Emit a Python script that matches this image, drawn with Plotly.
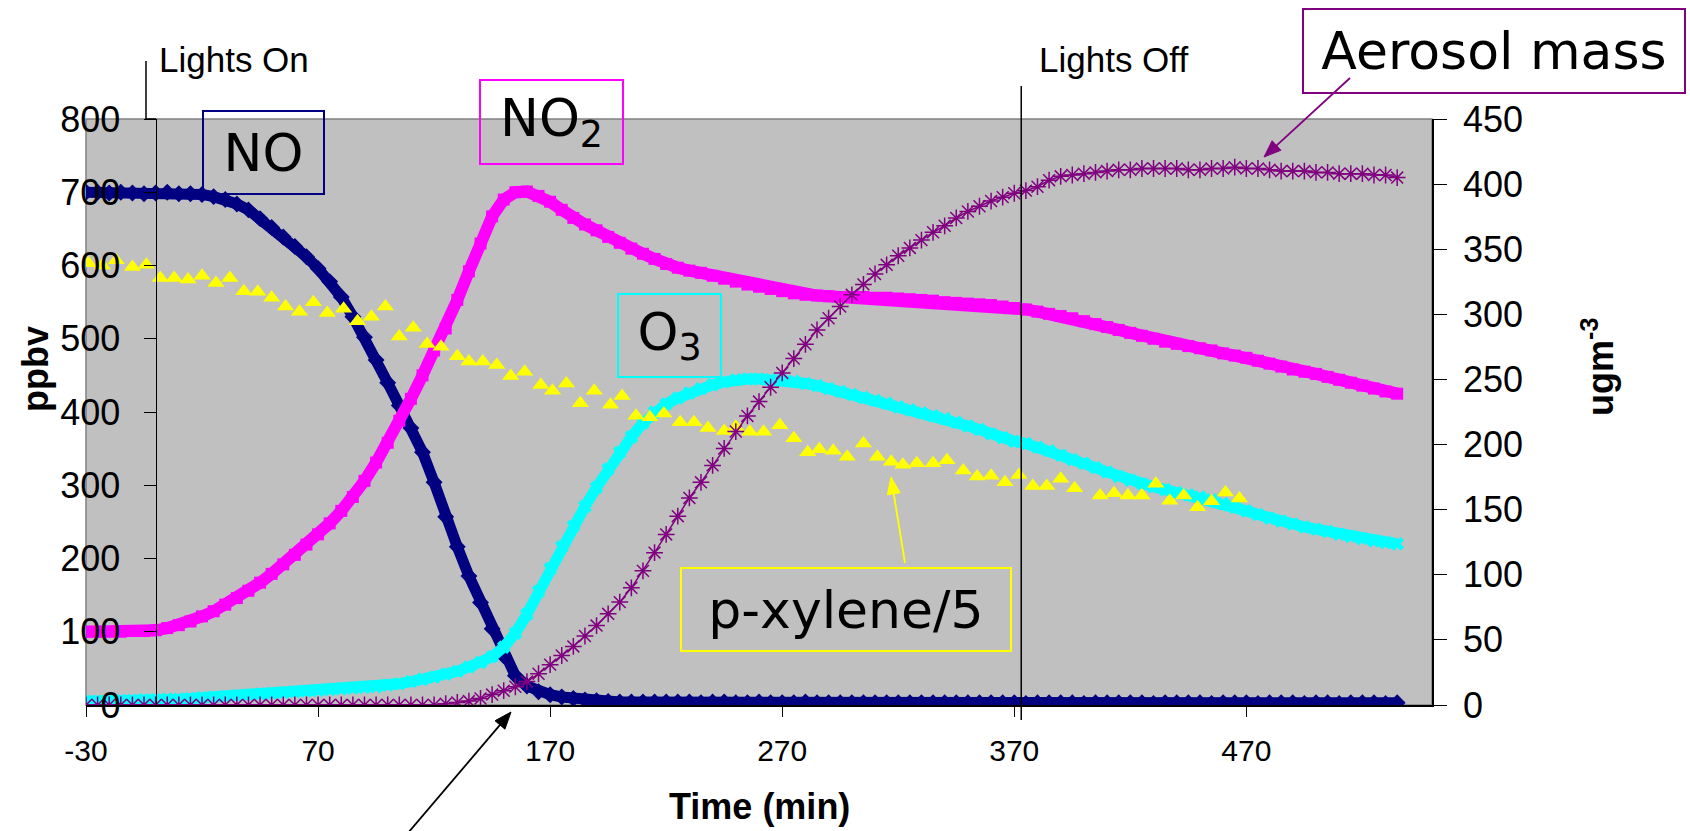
import math
import plotly.graph_objects as go

# ---------------- data ----------------
T5 = list(range(-30, 536, 5))  # sample times (min), 114 points

NO = [700, 700, 699, 700, 699, 698, 699, 700, 698, 698,
      697, 694, 690, 684, 676, 664, 652, 639, 626, 612,
      596, 578, 557, 530, 502, 471, 440, 409, 378, 345,
      304, 257, 216, 176, 140, 104, 67, 40, 26, 18,
      14, 11, 9, 7, 6, 5, 4, 4, 4, 4,
      4, 4, 4, 3, 4, 4, 3, 3, 4, 3,
      3, 3, 4, 3, 3, 3, 3, 3, 3, 3,
      3, 3, 3, 3, 3, 3, 3, 3, 3, 3,
      3, 2, 3, 3, 3, 3, 2, 3, 3, 3,
      3, 3, 2, 3, 3, 3, 3, 2, 3, 3,
      3, 2, 3, 3, 3, 2, 3, 3, 2, 3,
      3, 3, 2, 3]

NO2 = [100, 100, 100, 100, 101, 101, 102, 105, 109, 114,
       121, 128, 137, 146, 156, 167, 179, 192, 205, 219,
       233, 248, 265, 284, 306, 331, 358, 388, 418, 450,
       484, 514, 553, 592, 630, 667, 690, 700, 701, 695,
       687, 676, 665, 656, 648, 639, 631, 623, 616, 609,
       602, 597, 593, 590, 586, 582, 578, 574, 571, 568,
       565, 562, 560, 559, 558, 557, 557, 557, 556, 556,
       555, 554, 553, 552, 550, 549, 548, 547, 546, 544,
       542, 540, 537, 534, 531, 528, 524, 520, 516, 512,
       508, 504, 500, 496, 493, 490, 487, 484, 480, 477,
       474, 470, 466, 462, 458, 455, 452, 448, 444, 440,
       436, 432, 428, 425]

O3 = [5, 5, 5, 6, 6, 7, 7, 8, 8, 9,
      10, 11, 12, 13, 14, 15, 16, 17, 18, 19,
      20, 21, 22, 23, 24, 25, 27, 29, 32, 35,
      38, 42, 46, 52, 58, 66, 79, 98, 124, 155,
      186, 216, 244, 271, 297, 322, 345, 366, 385, 400,
      411, 419, 426, 432, 437, 441, 444, 445, 445, 444,
      443, 442, 439, 436, 432, 428, 424, 420, 416, 412,
      407, 403, 399, 395, 391, 386, 381, 376, 370, 365,
      360, 357, 352, 347, 341, 335, 330, 324, 318, 312,
      307, 302, 298, 294, 290, 287, 284, 280, 275, 270,
      265, 260, 255, 251, 247, 243, 240, 237, 233, 230,
      227, 224, 222, 220]

AEROSOL = [0, 0, 0, 0, 0, 0, 0, 0, 0, 0,
           0, 0, 0, 0, 0, 0, 0, 0, 0, 0,
           0, 0, 0, 0, 0, 0, 0, 0, 0, 0,
           0, 1, 2, 3, 5, 8, 11, 14, 18, 24,
           31, 38, 45, 53, 61, 70, 79, 90, 103, 117,
           131, 145, 159, 171, 184, 197, 210, 222, 233, 244,
           255, 266, 277, 288, 297, 306, 315, 323, 331, 338,
           345, 351, 357, 363, 368, 374, 379, 383, 387, 390,
           393, 395, 398, 403, 406, 407, 408, 409, 410, 411,
           411, 412, 412, 412, 412, 411, 411, 412, 412, 413,
           412, 412, 411, 410, 410, 410, 409, 409, 408, 408,
           408, 407, 407, 405]

PX_T = [-29, -23, -17, -10, -4, 2, 8, 14, 20, 26,
        32, 38, 44, 50, 56, 62, 68, 74, 81, 87,
        93, 99, 105, 111, 117, 123, 130, 135, 141, 147,
        153, 159, 166, 171, 177, 183, 189, 196, 201, 207,
        213, 219, 226, 232, 238, 245, 250, 256, 262, 269,
        275, 281, 286, 292, 298, 305, 311, 317, 322, 328,
        335, 341, 348, 354, 360, 366, 372, 378, 384, 390,
        396, 407, 413, 419, 425, 431, 437, 443, 449, 455,
        461, 467]
PX_V = [603, 600, 607, 598, 601, 583, 583, 581, 586, 576,
        583, 565, 564, 556, 544, 537, 550, 535, 541, 524,
        530, 544, 503, 515, 493, 489, 476, 469, 469, 464,
        449, 455, 437, 429, 439, 412, 429, 410, 422, 395,
        393, 398, 386, 386, 378, 374, 380, 373, 373, 382,
        364, 345, 349, 347, 339, 357, 339, 332, 328, 330,
        330, 334, 320, 312, 313, 304, 314, 299, 299, 309,
        296, 286, 289, 286, 286, 302, 279, 286, 270, 278,
        290, 282]

X_RANGE = [-30, 550]
X_TICKS = [-30, 70, 170, 270, 370, 470]
Y_LEFT_TICKS = [0, 100, 200, 300, 400, 500, 600, 700, 800]
Y_RIGHT_TICKS = [0, 50, 100, 150, 200, 250, 300, 350, 400, 450]
LIGHTS_OFF_T = 373

# ---------------- layout geometry ----------------
W, H = 1690, 831
ML, MR, MT, MB = 86, 258, 119, 126
PW, PH = W - ML - MR, H - MT - MB


def px(x):
    return (x - ML) / PW


def py(y):
    return (H - MB - y) / PH


ARIAL = "Arial, Liberation Sans, sans-serif"
BOXFONT = "DejaVu Sans, Verdana, sans-serif"

fig = go.Figure()

fig.add_trace(go.Scatter(x=T5, y=NO, mode="lines+markers", name="NO",
                         line=dict(color="#000080", width=11),
                         marker=dict(symbol="diamond", size=13, color="#000080")))
fig.add_trace(go.Scatter(x=T5, y=NO2, mode="lines+markers", name="NO2",
                         line=dict(color="#FF00FF", width=12),
                         marker=dict(symbol="square", size=12, color="#FF00FF")))
fig.add_trace(go.Scatter(x=T5, y=O3, mode="lines+markers", name="O3",
                         line=dict(color="#00FFFF", width=11),
                         marker=dict(symbol="x", size=12, color="#00FFFF")))
fig.add_trace(go.Scatter(x=PX_T, y=PX_V, mode="markers", name="p-xylene/5",
                         marker=dict(symbol="triangle-up", size=15, color="#FFFF00")))
fig.add_trace(go.Scatter(x=T5, y=AEROSOL, mode="lines+markers", name="Aerosol mass",
                         yaxis="y2",
                         line=dict(color="#800080", width=1.5),
                         marker=dict(symbol="asterisk-open", size=14,
                                     line=dict(color="#800080", width=1.5))))

fig.update_layout(
    width=W, height=H,
    margin=dict(l=ML, r=MR, t=MT, b=MB),
    paper_bgcolor="white", plot_bgcolor="#C0C0C0",
    showlegend=False,
    xaxis=dict(range=X_RANGE, tickmode="array", tickvals=X_TICKS,
               ticktext=[str(v) for v in X_TICKS],
               ticks="outside", ticklen=10, tickcolor="black", tickwidth=1,
               showline=True, linecolor="black", linewidth=1.5,
               showgrid=False, zeroline=False,
               tickfont=dict(family=ARIAL, size=30, color="black"),
               ticklabelstandoff=8),
    yaxis=dict(range=[0, 800], tickmode="array", tickvals=Y_LEFT_TICKS,
               anchor="free",
               position=(0 - X_RANGE[0]) / (X_RANGE[1] - X_RANGE[0]),
               ticks="outside", ticklen=12, tickcolor="black", tickwidth=1,
               showline=True, linecolor="black", linewidth=1,
               showgrid=False, zeroline=False,
               tickfont=dict(family=ARIAL, size=36, color="black"),
               ticklabelstandoff=16),
    yaxis2=dict(range=[0, 450], tickmode="array", tickvals=Y_RIGHT_TICKS,
                overlaying="y", side="right", anchor="x",
                ticks="outside", ticklen=13, tickcolor="black", tickwidth=1,
                showline=True, linecolor="black", linewidth=1.5,
                showgrid=False, zeroline=False,
                tickfont=dict(family=ARIAL, size=36, color="black"),
                ticklabelstandoff=9),
    yaxis3=dict(range=[0, 450], tickmode="array", tickvals=Y_RIGHT_TICKS,
                overlaying="y", side="right", anchor="x",
                ticks="inside", ticklen=11, tickcolor="black", tickwidth=1,
                showticklabels=False, showline=False,
                showgrid=False, zeroline=False),
)

# plot-area border (grey) on top / left
fig.add_shape(type="rect", xref="paper", yref="paper", x0=0, x1=1, y0=0, y1=1,
              line=dict(color="#808080", width=1.5), layer="below")

# Lights Off line
fig.add_shape(type="line", xref="x", yref="paper", x0=LIGHTS_OFF_T, x1=LIGHTS_OFF_T,
              y0=py(720), y1=py(86), line=dict(color="black", width=1.5))
# Lights On leader
fig.add_shape(type="path", xref="paper", yref="paper",
              path=f"M {px(146)},{py(61)} L {px(146)},{py(119)} L {px(156)},{py(119)}",
              line=dict(color="black", width=1.5))

fig.add_annotation(x=px(157), y=py(60), xref="paper", yref="paper", text="Lights On",
                   showarrow=False, xanchor="left", yanchor="middle",
                   font=dict(family=ARIAL, size=35, color="black"))
fig.add_annotation(x=px(1037), y=py(59), xref="paper", yref="paper", text="Lights Off",
                   showarrow=False, xanchor="left", yanchor="middle",
                   font=dict(family=ARIAL, size=35, color="black"))

# axis titles
fig.add_annotation(x=px(35), y=py(369), xref="paper", yref="paper", text="<b>ppbv</b>",
                   textangle=-90, showarrow=False, xanchor="center", yanchor="middle",
                   font=dict(family=ARIAL, size=36, color="black"))
fig.add_annotation(x=px(1598), y=py(367), xref="paper", yref="paper",
                   text="<b>ugm<sup>-3</sup></b>",
                   textangle=-90, showarrow=False, xanchor="center", yanchor="middle",
                   font=dict(family=ARIAL, size=36, color="black"))
fig.add_annotation(x=px(759), y=py(806), xref="paper", yref="paper", text="<b>Time (min)</b>",
                   showarrow=False, xanchor="center", yanchor="middle",
                   font=dict(family=ARIAL, size=36, color="black"))


def box(text, x0, x1, y0, y1, color):
    fig.add_annotation(x=px((x0 + x1) / 2), y=py((y0 + y1) / 2), xref="paper", yref="paper",
                       text=text, showarrow=False, xanchor="center", yanchor="middle",
                       width=x1 - x0 - 4, height=y1 - y0 - 4,
                       bordercolor=color, borderwidth=2, borderpad=0,
                       font=dict(family=BOXFONT, size=52, color="black"))


box("NO", 202, 325, 110, 195, "#000080")
box("NO<sub>2</sub>", 479, 624, 79, 165, "#FF00FF")
box("O<sub>3</sub>", 617, 722, 293, 378, "#00FFFF")
box("p-xylene/5", 680, 1012, 567, 652, "#FFFF00")
box("Aerosol mass", 1302, 1686, 8, 94, "#800080")


def arrow(hx, hy, tx, ty, color, width=1.8, head_len=17, head_half=6.5):
    """Arrow drawn as shapes (pixel geometry converted to paper coords)."""
    dx, dy = hx - tx, hy - ty
    d = math.hypot(dx, dy)
    ux, uy = dx / d, dy / d
    bx, by = hx - ux * head_len, hy - uy * head_len
    fig.add_shape(type="line", xref="paper", yref="paper",
                  x0=px(tx), y0=py(ty), x1=px(bx + ux * 2), y1=py(by + uy * 2),
                  line=dict(color=color, width=width))
    lx, ly = bx - uy * head_half, by + ux * head_half
    rx, ry = bx + uy * head_half, by - ux * head_half
    fig.add_shape(type="path", xref="paper", yref="paper",
                  path=f"M {px(hx)},{py(hy)} L {px(lx)},{py(ly)} L {px(rx)},{py(ry)} Z",
                  fillcolor=color, line=dict(color=color, width=1))


arrow(1264, 157, 1350, 78, "#800080")
arrow(891, 477, 905, 563, "#FFFF00")
arrow(511, 712, 402, 840, "black")

fig.write_html("out.html")
